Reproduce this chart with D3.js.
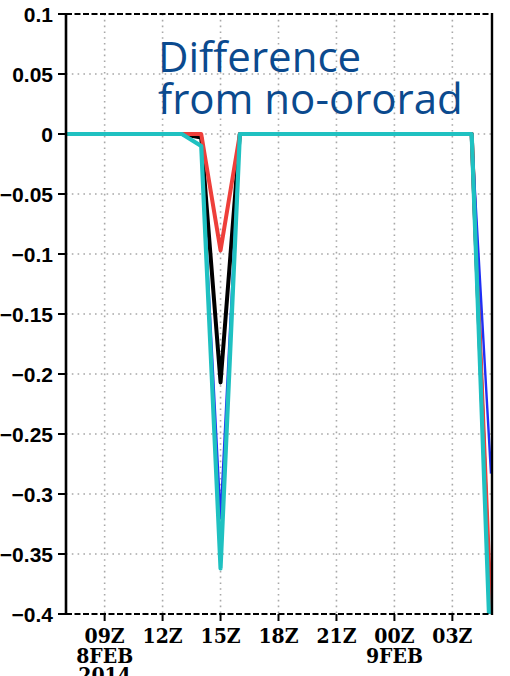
<!DOCTYPE html>
<html>
<head>
<meta charset="utf-8">
<script src="https://cdn.jsdelivr.net/npm/d3@7"></script>
<style>
  html, body { margin: 0; padding: 0; background: #fff; }
  svg { display: block; }
</style>
</head>
<body>
<svg id="chart" width="510" height="676"></svg>
<script>
// ---- data ----
const times = [
  "2014-02-08T07", "2014-02-08T08", "2014-02-08T09", "2014-02-08T10", "2014-02-08T11",
  "2014-02-08T12", "2014-02-08T13", "2014-02-08T14", "2014-02-08T15", "2014-02-08T16",
  "2014-02-08T17", "2014-02-08T18", "2014-02-08T19", "2014-02-08T20", "2014-02-08T21",
  "2014-02-08T22", "2014-02-08T23", "2014-02-09T00", "2014-02-09T01", "2014-02-09T02",
  "2014-02-09T03", "2014-02-09T04", "2014-02-09T05"
];
const redValues   = [0, 0, 0, 0, 0, 0, 0, 0,      -0.097, 0, 0, 0, 0, 0, 0, 0, 0, 0, 0, 0, 0, 0, -0.40];
const blackValues = [0, 0, 0, 0, 0, 0, 0, -0.003, -0.207, 0, 0, 0, 0, 0, 0, 0, 0, 0, 0, 0, 0, 0, -0.42];
const blueValues  = [0, 0, 0, 0, 0, 0, 0, -0.010, -0.320, 0, 0, 0, 0, 0, 0, 0, 0, 0, 0, 0, 0, 0, -0.283];
const cyanValues  = [0, 0, 0, 0, 0, 0, 0, -0.010, -0.362, 0, 0, 0, 0, 0, 0, 0, 0, 0, 0, 0, 0, 0, -0.447];

const xTickTimes  = ["2014-02-08T09", "2014-02-08T12", "2014-02-08T15", "2014-02-08T18",
                     "2014-02-08T21", "2014-02-09T00", "2014-02-09T03"];
const xTickLabels = [["09Z", "8FEB", "2014"], ["12Z"], ["15Z"], ["18Z"], ["21Z"], ["00Z", "9FEB"], ["03Z"]];
const yTicks      = [0.1, 0.05, 0, -0.05, -0.1, -0.15, -0.2, -0.25, -0.3, -0.35, -0.4];
const yTickLabels = ["0.1", "0.05", "0", "\u22120.05", "\u22120.1", "\u22120.15", "\u22120.2",
                     "\u22120.25", "\u22120.3", "\u22120.35", "\u22120.4"];
const titleLines  = ["Difference", "from no-ororad"];

// ---- layout ----
const parse = d3.utcParse("%Y-%m-%dT%H");
const dates = times.map(parse);
const pL = 66, pR = 491, pT = 14, pB = 614;

const x = d3.scaleUtc().domain([dates[0], dates[dates.length - 1]]).range([pL, pR]);
const y = d3.scaleLinear().domain([-0.4, 0.1]).range([pB, pT]);

const svg = d3.select("#chart");

svg.append("defs").append("clipPath").attr("id", "plotclip")
  .append("rect").attr("x", pL).attr("y", pT).attr("width", pR - pL).attr("height", pB - pT);

// grid
const grid = svg.append("g").attr("stroke", "#a8a8a8").attr("stroke-width", 1.6)
  .attr("stroke-dasharray", "1.6,4.2").attr("fill", "none");
xTickTimes.forEach(t => {
  const xx = x(parse(t));
  grid.append("line").attr("x1", xx).attr("x2", xx).attr("y1", pT).attr("y2", pB);
});
yTicks.filter(v => v < 0.1 && v > -0.4).forEach(v => {
  grid.append("line").attr("x1", pL).attr("x2", pR).attr("y1", y(v)).attr("y2", y(v));
});

// title
titleLines.forEach((s, i) => {
  svg.append("text").attr("fill", "#0b4a8e")
    .attr("font-family", "'Open Sans', 'Noto Sans', sans-serif").attr("font-size", 42)
    .attr("x", 158).attr("y", 72 + i * 42).text(s);
});

// lines
const line = d3.line().x((d, i) => x(dates[i])).y(d => y(d));
const series = [
  { values: blackValues, color: "#000000", width: 4 },
  { values: redValues,   color: "#ee3f3a", width: 4 },
  { values: blueValues,  color: "#1f2ff5", width: 2.4 },
  { values: cyanValues,  color: "#1fc1c1", width: 4.2 }
];
const lg = svg.append("g").attr("clip-path", "url(#plotclip)");
series.forEach(s => {
  lg.append("path").datum(s.values).attr("d", line)
    .attr("fill", "none").attr("stroke", s.color).attr("stroke-width", s.width)
    .attr("stroke-linejoin", "round");
});

// frame
const frame = svg.append("g").attr("stroke", "#000").attr("fill", "none");
frame.append("line").attr("x1", pL).attr("x2", pR).attr("y1", pT).attr("y2", pT)
  .attr("stroke-width", 2.2).attr("stroke-dasharray", "6,2.5");
frame.append("line").attr("x1", pL).attr("x2", pR).attr("y1", pB).attr("y2", pB)
  .attr("stroke-width", 2.2).attr("stroke-dasharray", "6,2.5");
frame.append("line").attr("x1", pL).attr("x2", pL).attr("y1", pT - 1).attr("y2", pB + 1)
  .attr("stroke-width", 2.6);
frame.append("line").attr("x1", pR + 1).attr("x2", pR + 1).attr("y1", pT - 1).attr("y2", pB + 1)
  .attr("stroke-width", 2.4);

// y axis ticks + labels
const ya = svg.append("g");
yTicks.forEach((v, i) => {
  ya.append("line").attr("x1", pL - 8).attr("x2", pL).attr("y1", y(v)).attr("y2", y(v))
    .attr("stroke", "#000").attr("stroke-width", 2);
  ya.append("text").attr("x", 53).attr("y", y(v) + 8).attr("text-anchor", "end")
    .attr("font-family", "'Liberation Sans', Arial, sans-serif").attr("font-weight", "bold")
    .attr("font-size", 21).attr("fill", "#000").text(yTickLabels[i]);
});

// x axis ticks + labels
const xa = svg.append("g");
xTickTimes.forEach((t, i) => {
  const xx = x(parse(t));
  xa.append("line").attr("x1", xx).attr("x2", xx).attr("y1", pB).attr("y2", pB + 7)
    .attr("stroke", "#000").attr("stroke-width", 2);
  xTickLabels[i].forEach((s, j) => {
    xa.append("text").attr("text-anchor", "middle")
      .attr("font-family", "'DejaVu Serif Condensed', 'DejaVu Serif', serif")
      .attr("font-stretch", "condensed").attr("font-weight", "bold")
      .attr("font-size", 21).attr("fill", "#000")
      .attr("x", xx).attr("y", 643 + j * 19.5).text(s);
  });
});
</script>
</body>
</html>
